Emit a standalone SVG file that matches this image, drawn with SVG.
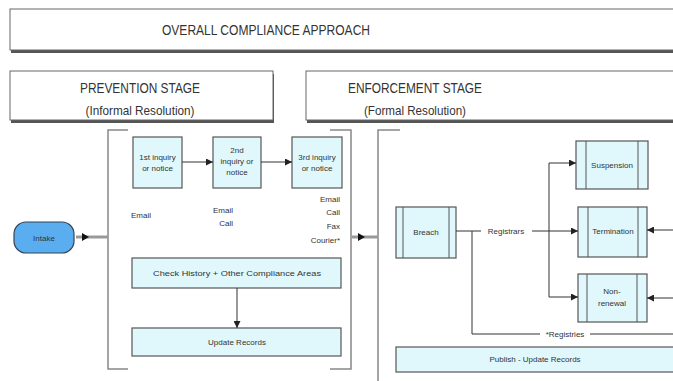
<svg xmlns="http://www.w3.org/2000/svg" width="673" height="381" viewBox="0 0 673 381">
<defs>
<marker id="ah" viewBox="0 0 10 10" refX="10" refY="5" markerWidth="7" markerHeight="7" markerUnits="userSpaceOnUse" orient="auto"><path d="M0,0 L10,5 L0,10 z" fill="#222"/></marker>
<marker id="ahb" viewBox="0 0 10 10" refX="0" refY="5" markerWidth="8" markerHeight="8" markerUnits="userSpaceOnUse" orient="auto"><path d="M0,0 L10,5 L0,10 z" fill="#111"/></marker>
</defs>
<style>
text{font-family:"Liberation Sans",Arial,sans-serif;fill:#333}
.hdr{fill:#fff;stroke:#666;stroke-width:1}
.shd{fill:#555}
.big{font-size:15px}
.sub{font-size:13.5px}
.sm{font-size:8px}
.box{fill:#e0f8fc;stroke:#555;stroke-width:1.2}
.inner{stroke:#555;stroke-width:1;fill:none}
.br{fill:none;stroke:#888;stroke-width:1.5}
.ln{fill:none;stroke:#333;stroke-width:1}
.thick{fill:none;stroke:#999;stroke-width:3}
</style>
<rect width="673" height="381" fill="#fff"/>

<g id="title">
<rect class="shd" x="11" y="12" width="680" height="41"/>
<rect class="hdr" x="10" y="9" width="680" height="41"/>
<text class="big" x="266" y="35" text-anchor="middle" textLength="208" lengthAdjust="spacingAndGlyphs">OVERALL COMPLIANCE APPROACH</text>
</g>

<g id="prevention-header">
<rect class="shd" x="11" y="74" width="263" height="49"/>
<rect class="hdr" x="10" y="71" width="263" height="49"/>
<text class="big" x="140" y="93" text-anchor="middle" textLength="120" lengthAdjust="spacingAndGlyphs">PREVENTION STAGE</text>
<text class="sub" x="140" y="115" text-anchor="middle" textLength="109" lengthAdjust="spacingAndGlyphs">(Informal Resolution)</text>
</g>

<g id="enforcement-header">
<rect class="shd" x="307" y="74" width="380" height="49"/>
<rect class="hdr" x="306" y="71" width="380" height="49"/>
<text class="big" x="415" y="93" text-anchor="middle" textLength="134" lengthAdjust="spacingAndGlyphs">ENFORCEMENT STAGE</text>
<text class="sub" x="415" y="115" text-anchor="middle" textLength="102" lengthAdjust="spacingAndGlyphs">(Formal Resolution)</text>
</g>

<g id="prevention-bracket">
<path class="br" d="M128,130 H108 V369 H128"/>
<path class="br" d="M330,130 H351 V369 H330"/>
</g>
<g id="enforcement-bracket">
<path class="br" d="M400,130 H378 V381"/>
</g>

<g id="intake">
<rect x="14" y="222" width="60" height="31" rx="12" ry="12" fill="#5aaef0" stroke="#345" stroke-width="1.2"/>
<text class="sm" x="44" y="241" text-anchor="middle" fill="#123">Intake</text>
</g>

<g id="inquiry1">
<rect class="box" x="133" y="137" width="49" height="51"/>
<text class="sm" x="157.5" y="160" text-anchor="middle">1st inquiry</text>
<text class="sm" x="157.5" y="171" text-anchor="middle">or notice</text>
</g>
<g id="inquiry2">
<rect class="box" x="213" y="137" width="48" height="51"/>
<text class="sm" x="237" y="153" text-anchor="middle">2nd</text>
<text class="sm" x="237" y="164" text-anchor="middle">inquiry or</text>
<text class="sm" x="237" y="175" text-anchor="middle">notice</text>
</g>
<g id="inquiry3">
<rect class="box" x="292" y="137" width="50" height="51"/>
<text class="sm" x="317" y="160" text-anchor="middle">3rd inquiry</text>
<text class="sm" x="317" y="171" text-anchor="middle">or notice</text>
</g>

<g id="labels">
<text class="sm" x="131" y="218">Email</text>
<text class="sm" x="233" y="213" text-anchor="end">Email</text>
<text class="sm" x="233" y="226" text-anchor="end">Call</text>
<text class="sm" x="340" y="202" text-anchor="end">Email</text>
<text class="sm" x="340" y="215" text-anchor="end">Call</text>
<text class="sm" x="340" y="229" text-anchor="end">Fax</text>
<text class="sm" x="340" y="243" text-anchor="end">Courier*</text>
</g>

<g id="check-history">
<rect class="box" x="132" y="258" width="209" height="30"/>
<text class="sm" x="237" y="276" text-anchor="middle" textLength="168" lengthAdjust="spacingAndGlyphs">Check History + Other Compliance Areas</text>
</g>
<g id="update-records">
<rect class="box" x="132" y="328" width="209" height="28"/>
<text class="sm" x="237" y="345" text-anchor="middle">Update Records</text>
</g>

<g id="breach">
<rect class="box" x="396" y="207" width="60" height="51"/>
<path class="inner" d="M403,207 V258 M449,207 V258"/>
<text class="sm" x="426" y="235" text-anchor="middle">Breach</text>
</g>
<g id="suspension">
<rect class="box" x="576" y="141" width="72" height="48"/>
<path class="inner" d="M586,141 V189 M638,141 V189"/>
<text class="sm" x="612" y="168" text-anchor="middle">Suspension</text>
</g>
<g id="termination">
<rect class="box" x="578" y="207" width="69" height="50"/>
<path class="inner" d="M588,207 V257 M638,207 V257"/>
<text class="sm" x="613" y="234" text-anchor="middle">Termination</text>
</g>
<g id="non-renewal">
<rect class="box" x="578" y="274" width="69" height="48"/>
<path class="inner" d="M587,274 V322 M637,274 V322"/>
<text class="sm" x="612" y="294" text-anchor="middle">Non-</text>
<text class="sm" x="612" y="306" text-anchor="middle">renewal</text>
</g>
<g id="publish">
<rect class="box" x="396" y="347" width="290" height="25"/>
<text class="sm" x="535" y="362" text-anchor="middle">Publish - Update Records</text>
</g>

<g id="connectors">
<path class="thick" d="M76,237 H108"/>
<path d="M82,233 L89,237 L82,241 z" fill="#111"/>
<path class="thick" d="M352,237 H378"/>
<path d="M358,233 L365,237 L358,241 z" fill="#111"/>
<path class="ln" d="M182,162 H213" marker-end="url(#ah)"/>
<path class="ln" d="M261,162 H292" marker-end="url(#ah)"/>
<path class="ln" d="M237,288 V328" marker-end="url(#ah)"/>
<path class="ln" d="M456,231 H481"/>
<text class="sm" x="506" y="234" text-anchor="middle">Registrars</text>
<path class="ln" d="M532,231 H578" marker-end="url(#ah)"/>
<path class="ln" d="M549,297 V163 H576" marker-end="url(#ah)"/>
<path class="ln" d="M549,297 H578" marker-end="url(#ah)"/>
<path class="ln" d="M673,230 H647" marker-end="url(#ah)"/>
<path class="ln" d="M673,298 H647" marker-end="url(#ah)"/>
<path class="ln" d="M472,231 V334 H540"/>
<text class="sm" x="565" y="337" text-anchor="middle">*Registries</text>
<path class="ln" d="M590,334 H673"/>
</g>
</svg>
